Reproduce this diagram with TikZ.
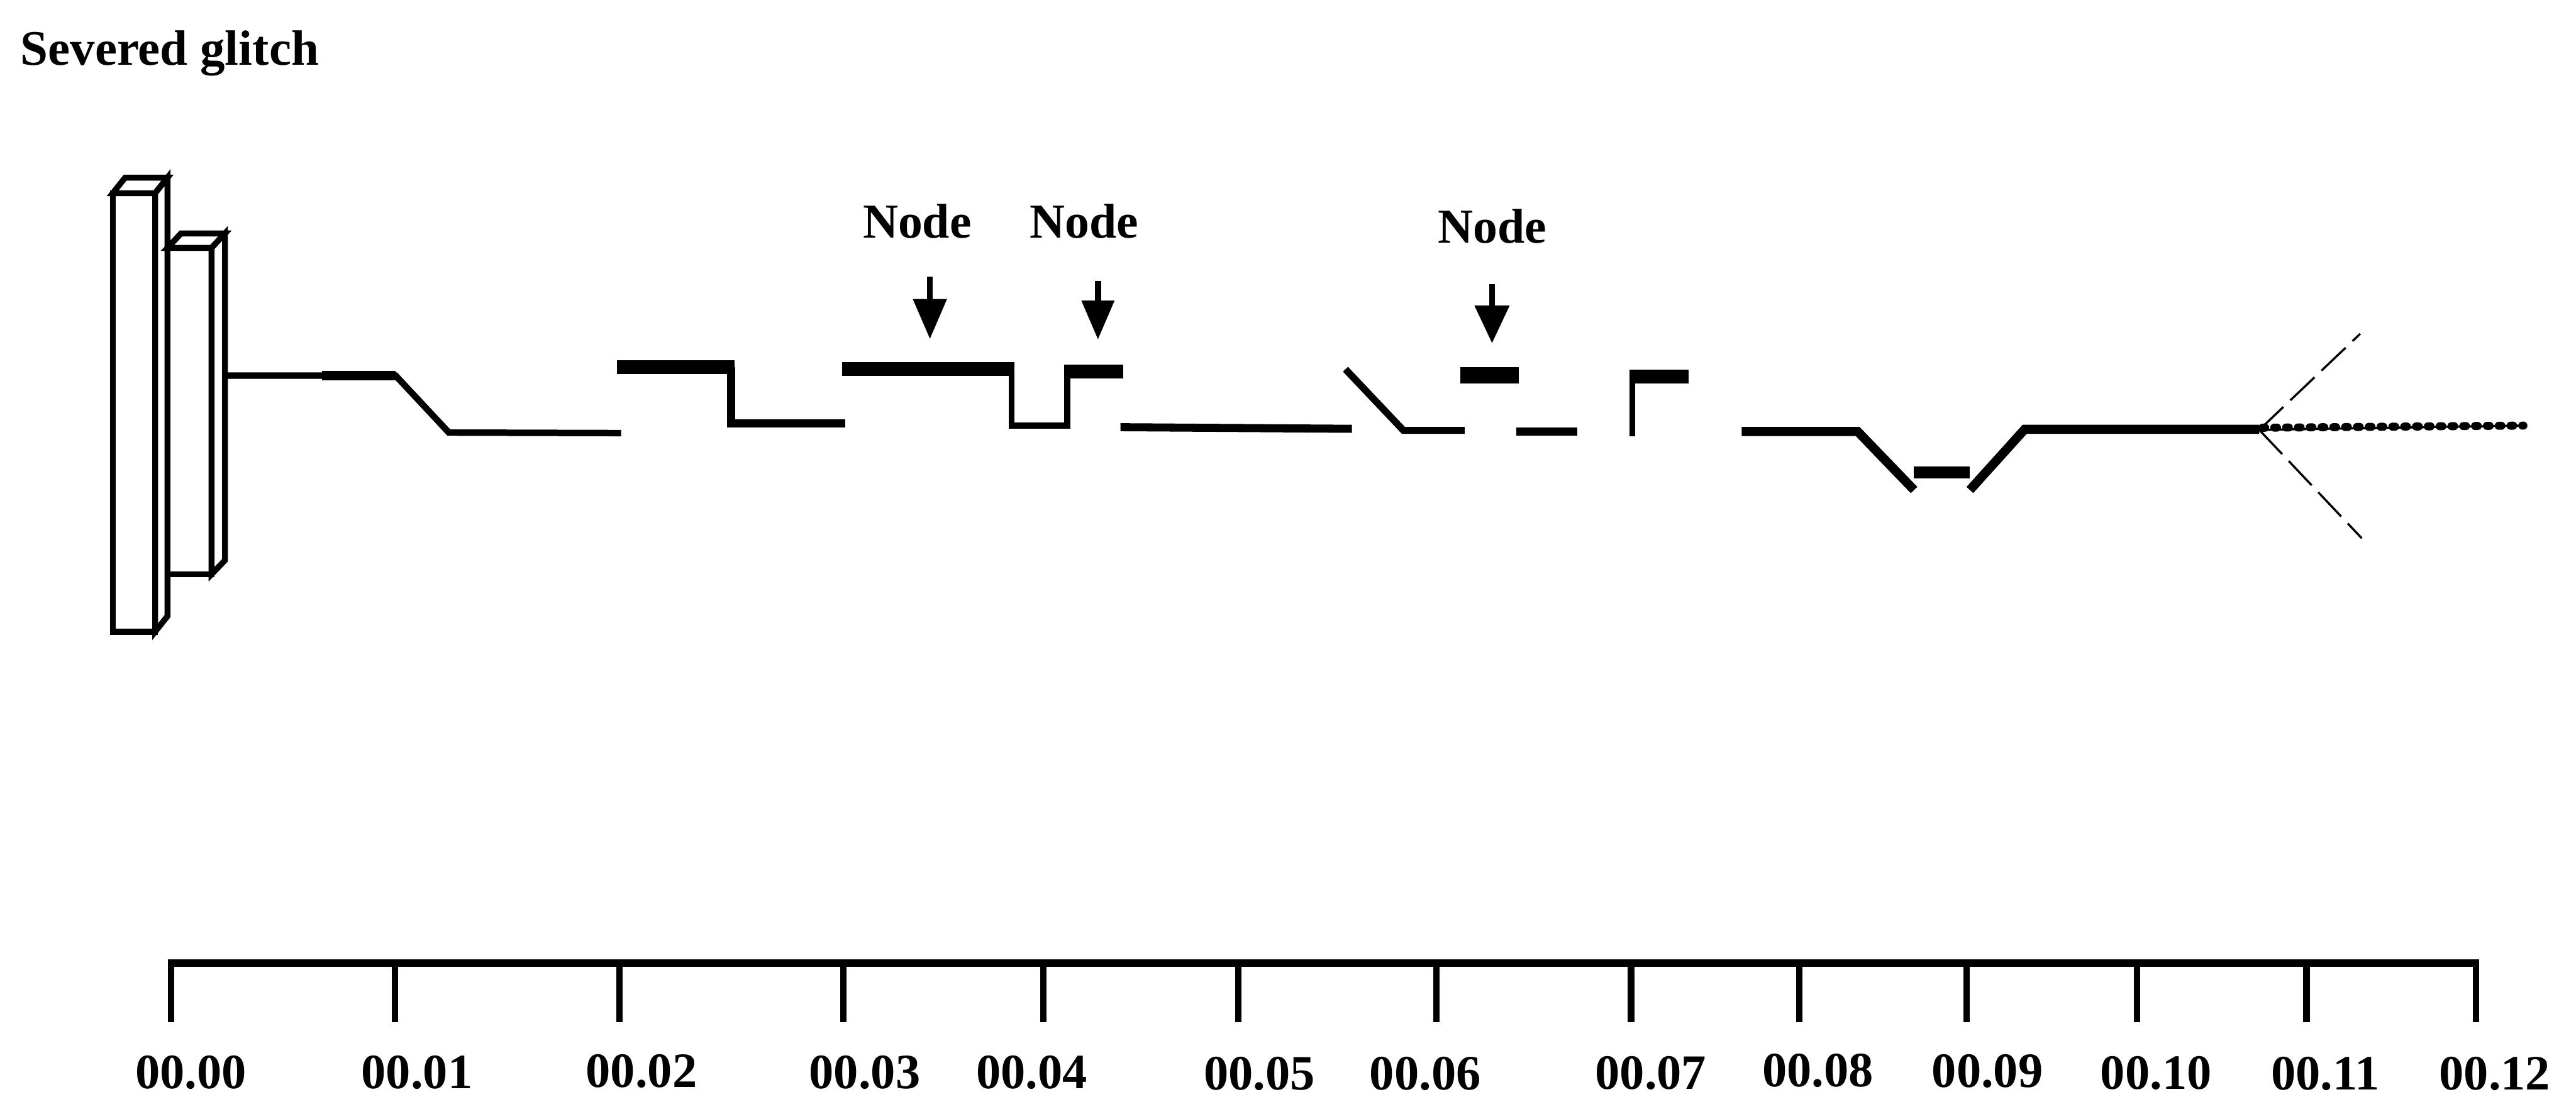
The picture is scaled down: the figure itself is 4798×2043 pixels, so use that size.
\documentclass[tikz,border=0pt]{standalone}
\usepackage{fontspec}
\setmainfont{Liberation Serif}
\begin{document}
\begin{tikzpicture}[x=1pt,y=-1pt,
  line join=miter,
  slab/.style={line width=11pt, fill=white},
  wire/.style={line width=15pt},
  riser/.style={line width=11pt},
  heavy/.style={line width=26pt},
  lbl/.style={font=\fontsize{91}{100}\selectfont\bfseries, inner sep=0pt, anchor=base west},
  axislbl/.style={lbl, font=\fontsize{92}{100}\selectfont\bfseries},
  tick/.style={line width=12pt},
  pointer/.style={line width=11pt},
  spread/.style={line width=4pt, dash pattern=on 62pt off 18pt},
  beads/.style={line width=15pt, line cap=round, dash pattern=on 5pt off 17pt}]

\useasboundingbox (0,0) rectangle (4798,2043);

% title
\node[lbl, font=\fontsize{92.5}{100}\selectfont\bfseries] (title) at (38,121) {Severed glitch};

% stacked end plates (drawn as two boxes in oblique view)
\def\dx{23}\def\dy{-29}
\draw[slab] (210,360) rectangle (289,1177);
\draw[slab] (210,360) -- ++(\dx,\dy) -- (312,331) -- (289,360) -- cycle;
\draw[slab] (289,360) -- (312,331) -- (312,1148) -- (289,1177) -- cycle;
\draw[slab] (312,462) rectangle (394,1070);
\draw[slab] (312,462) -- ++(25,-27) -- (419,435) -- (394,462) -- cycle;
\draw[slab] (394,462) -- (419,435) -- (419,1044) -- (394,1070) -- cycle;

% line segments
\draw[line width=12pt] (419,700) -- (737,700) -- (836,806) -- (1157,807);
\draw[line width=18pt] (600,700) -- (737,700);

\draw[wire] (1362,684) -- (1362,789) -- (1574,789);
\draw[heavy] (1149,684) -- (1368,684);

\draw[riser] (1884,688) -- (1884,793) -- (1988,793) -- (1988,692);
\draw[heavy] (1569,688) -- (1889,688);
\draw[heavy] (1982,692) -- (2092,692);

\draw[wire] (2087,796) -- (2518,799);
\draw[line width=13pt] (2506,688) -- (2614,802) -- (2728,802);
\draw[line width=30pt] (2720,699) -- (2829,699);
\draw[wire] (2824,804) -- (2938,804);
\draw[riser] (3040,813) -- (3040,700);
\draw[heavy] (3035,702) -- (3145,702);

\draw[line width=17pt] (3244,804) -- (3460,804) -- (3565,913);
\draw[line width=22pt] (3565,880) -- (3669,880);
\draw[line width=17pt] (3669,913) -- (3771,800) -- (4208,800);
\coordinate (split) at (4208,801);

% continuation and spread
\draw[line width=4pt] (split) -- (4700,793);
\draw[beads] (4214,797) -- (4700,793);
\coordinate (upend) at (4396,622);
\coordinate (loend) at (4399,1003);
\draw[spread] (split) -- (upend);
\draw[spread] (split) -- (loend);

% node labels with pointers
\node[lbl] (n1) at (1607,443) {Node};
\node[lbl] (n2) at (1918,443) {Node};
\node[lbl] (n3) at (2678,453) {Node};

\coordinate (p1) at (1732,515);
\coordinate (p2) at (2045,524);
\coordinate (p3) at (2779,529);
\draw[pointer] (p1) -- ++(0,46);
\fill (1700,557) -- (1764,557) -- (1732,631) -- cycle;
\draw[pointer] (p2) -- ++(0,40);
\fill (2014,560) -- (2076,560) -- (2045,632) -- cycle;
\draw[pointer] (p3) -- ++(0,44);
\fill (2746,569) -- (2812,569) -- (2779,639) -- cycle;

% time axis
\coordinate (a0) at (313,1794);
\coordinate (a1) at (4618,1794);
\draw[line width=14pt] (a0) -- (a1);
\foreach \x [count=\i] in {319,736,1154,1571,1943,2306,2675,3038,3351,3663,3980,4296,4612}
  \draw[tick] (\x,1788) -- (\x,1905);

\foreach \x/\y/\t in {252/2028/00.00, 673/2028/00.01, 1091/2026/00.02, 1507/2028/00.03,
  1818/2028/00.04, 2242/2031/00.05, 2551/2030/00.06, 2971/2029/00.07, 3282/2025/00.08,
  3598/2026/00.09, 3912/2029/00.10, 4230/2030/00.11, 4543/2030/00.12}
  \node[axislbl] (L\t) at (\x,\y) {\t};
\end{tikzpicture}
\end{document}
